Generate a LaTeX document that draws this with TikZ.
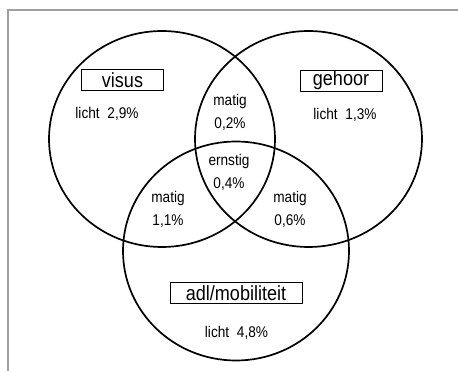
\documentclass[tikz,border=0pt]{standalone}
\usepackage{fontspec}
\setmainfont[FakeStretch=0.88]{Liberation Sans}
\begin{document}
\begin{tikzpicture}[x=1pt,y=-1pt,
  ring/.style={line width=1.7pt, black},
  frameline/.style={line width=1.2pt, gray!75},
  lbl/.style={font=\fontsize{15.5}{23}\selectfont, align=center, inner sep=0pt},
  titlebox/.style={draw, line width=0.8pt, font=\fontsize{20.5}{20}\selectfont, inner sep=0pt, minimum height=21pt}]
\useasboundingbox (0,0) rectangle (458,371);
\draw[frameline] (8,371) -- (8,10) -- (458,10);
\draw[ring] (162,139) ellipse [x radius=113pt, y radius=108pt];
\draw[ring] (308.5,139) ellipse [x radius=113.5pt, y radius=108pt];
\draw[ring] (236,251) ellipse [x radius=113pt, y radius=109.5pt];
\node[titlebox, minimum width=82pt] (visus) at (122.5,80) {visus};
\node[titlebox, minimum width=82pt] (gehoor) at (341,80.7) {gehoor};
\node[titlebox, minimum width=132pt] (adl) at (236,293.3) {adl/mobiliteit};
\node[lbl] (l1) at (107,114) {licht\hspace{0.5em}2,9\%};
\node[lbl] (l2) at (345,115) {licht\hspace{0.5em}1,3\%};
\node[lbl] (l3) at (236.5,333) {licht\hspace{0.5em}4,8\%};
\node[lbl] (m1) at (230,112.5) {matig\\0,2\%};
\node[lbl] (e1) at (229,172.5) {ernstig\\0,4\%};
\node[lbl] (m2) at (168,209.5) {matig\\1,1\%};
\node[lbl] (m3) at (290,209) {matig\\0,6\%};
\end{tikzpicture}
\end{document}
